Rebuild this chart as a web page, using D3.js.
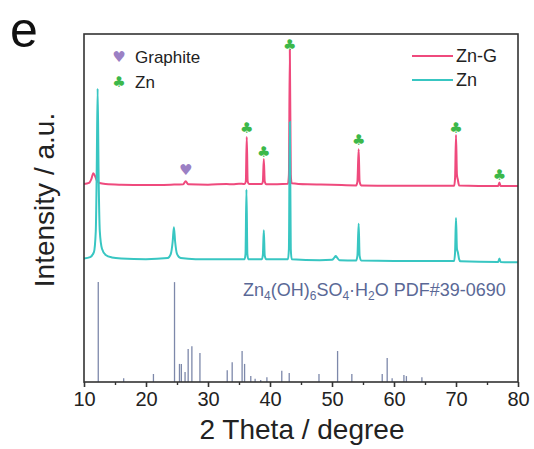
<!DOCTYPE html>
<html><head><meta charset="utf-8">
<script src="https://cdn.jsdelivr.net/npm/d3@7"></script>
<style>html,body{margin:0;padding:0;background:#fff;}svg{display:block;font-family:"Liberation Sans",Arial,sans-serif;}</style>
</head><body>
<svg id="c" width="534" height="449"></svg>
<script>
// ---- data (relative intensities, a.u.) ----
const xTicks = [10,20,30,40,50,60,70,80];
const offsetZnG = 56.6;
const offsetZn = 35.3;
const znG = [[10,0.3],[10.8,0.6],[11.2,1.8],[11.5,3.4],[11.8,2.5],[12.1,1.2],[12.5,0.6],[13.5,0.3],[16,0.1],[20,0],[24,0.1],[26.0,0.2],[26.4,1.1],[26.8,0.2],[30,0.1],[33,0.3],[34,0.2],[35,0.4],[35.9,0.3],[36.1,1],[36.25,13.8],[36.4,1],[36.6,0.3],[38.7,0.3],[38.85,1],[39.0,7.5],[39.15,1],[39.4,0.2],[42.9,0.4],[43.05,3],[43.2,38.8],[43.35,3],[43.5,0.5],[46,0.2],[50,0.1],[53.9,-0.1],[54.1,1],[54.3,10.3],[54.45,1],[54.7,-0.1],[60,-0.2],[69.7,-0.2],[69.85,2],[70.0,14.4],[70.15,3],[70.3,1.5],[70.5,-0.1],[76.8,-0.3],[77.0,0.7],[77.2,-0.3],[80,-0.3]];
const zn = [[10,0.2],[11,0.6],[11.6,2],[11.9,8],[12.05,25],[12.2,49],[12.35,25],[12.55,8],[12.9,3],[13.5,1.2],[14.5,0.5],[16,0.2],[20,0],[23.5,0.3],[24.0,1.5],[24.3,5],[24.5,9.2],[24.7,5],[25.0,1.5],[25.6,0.3],[28,0],[35.9,0],[36.05,1.5],[36.2,20],[36.35,1.5],[36.5,0],[38.7,0],[38.85,1.2],[39.0,8.3],[39.15,1],[39.4,0],[42.9,0],[43.05,3],[43.2,39.4],[43.35,3],[43.5,0],[48,-0.3],[50.0,-0.2],[50.4,0.5],[50.6,0.9],[50.8,0.5],[51.2,-0.3],[53.9,-0.4],[54.1,1],[54.3,10.2],[54.45,1],[54.7,-0.4],[60,-0.5],[69.7,-0.5],[69.85,2],[70.0,11.8],[70.15,3],[70.3,2],[70.5,0],[70.7,-0.6],[76.8,-0.8],[77.0,0.2],[77.2,-0.8],[80,-0.9]];
const refPos = [12.3,16.4,21.2,24.6,25.4,25.7,26.3,26.8,27.4,28.7,33.1,33.9,35.5,35.9,36.9,37.6,38.5,39.5,41.9,43.1,47.9,50.9,53.2,58.1,58.9,59.7,61.6,62.0,64.5];
const refInt = [28.7,1.1,2.3,28.7,5.2,5.2,2.9,9.5,10.3,8.3,3.4,5.7,8.9,5.2,1.7,0.9,0.6,1.4,3.2,2.6,2.3,8.9,2.3,2.3,6.9,1.1,2.0,1.7,1.4];
const znMarks = [[36.25,73.0],[39.0,66.1],[43.2,96.8],[54.3,69.5],[70.0,73.0],[77.0,59.5]];
const graphiteMarks = [[26.4,60.9]];
const legendSeries = ["Zn-G","Zn"];
const legendPhases = ["Graphite","Zn"];

// ---- layout ----
const L=84,R=518,T=34,B=382;
const svg=d3.select("#c");
const x=d3.scaleLinear().domain([10,80]).range([L,R]);
const y=d3.scaleLinear().domain([0,100]).range([B,T]);
const pink="#ef4a7d", cyan="#38c6c2", green="#3cb84a", purple="#9b80c4", stick="#7d88aa";

// reference sticks
svg.append("g").selectAll("line").data(refPos).join("line")
  .attr("x1",d=>x(d)).attr("x2",d=>x(d))
  .attr("y1",y(0)).attr("y2",(d,i)=>y(refInt[i]))
  .attr("stroke",stick).attr("stroke-width",1.3);

const line=off=>d3.line().x(d=>x(d[0])).y(d=>y(d[1]+off)).curve(d3.curveMonotoneX);
svg.append("path").datum(znG).attr("d",line(offsetZnG)).attr("fill","none").attr("stroke",pink).attr("stroke-width",2);
svg.append("path").datum(zn).attr("d",line(offsetZn)).attr("fill","none").attr("stroke",cyan).attr("stroke-width",2);

// markers
svg.append("g").selectAll("text").data(znMarks).join("text")
  .attr("x",d=>x(d[0])).attr("y",d=>y(d[1])+5).attr("text-anchor","middle")
  .attr("font-family","DejaVu Sans").attr("font-size",15).attr("fill",green).text("\u2663");
svg.append("g").selectAll("text").data(graphiteMarks).join("text")
  .attr("x",d=>x(d[0])).attr("y",d=>y(d[1])+5).attr("text-anchor","middle")
  .attr("font-family","DejaVu Sans").attr("font-size",15).attr("fill",purple).text("\u2665");

// frame
svg.append("rect").attr("x",L).attr("y",T).attr("width",R-L).attr("height",B-T)
  .attr("fill","none").attr("stroke","#333").attr("stroke-width",1.6);

// x axis
const ax=svg.append("g").attr("transform",`translate(0,${B})`)
  .call(d3.axisBottom(x).tickValues(xTicks).tickSize(5).tickPadding(5).tickFormat(d3.format("d")));
ax.select(".domain").remove();
ax.selectAll("line").attr("stroke","#333").attr("stroke-width",1.6);
ax.selectAll("text").attr("font-size",20).attr("fill","#222").attr("font-family","Liberation Sans, Arial, sans-serif");
svg.append("g").attr("transform",`translate(0,${B})`)
  .call(d3.axisBottom(x).tickValues(d3.range(15,80,10)).tickSize(3).tickFormat(""))
  .call(g=>{g.select(".domain").remove();g.selectAll("line").attr("stroke","#333").attr("stroke-width",1.4);});

svg.append("text").attr("x",302).attr("y",439).attr("text-anchor","middle").attr("font-size",28).attr("fill","#222").text("2 Theta / degree");
svg.append("text").attr("transform","translate(54,200) rotate(-90)").attr("text-anchor","middle").attr("font-size",28).attr("fill","#222").text("Intensity / a.u.");
svg.append("text").attr("x",10).attr("y",47).attr("font-size",50).attr("fill","#111").text("e");

// reference label
const rl=svg.append("text").attr("x",243).attr("y",296).attr("font-size",18).attr("fill","#5a6896");
rl.append("tspan").text("Zn");
rl.append("tspan").attr("font-size",12).attr("dy",4).text("4");
rl.append("tspan").attr("dy",-4).text("(OH)");
rl.append("tspan").attr("font-size",12).attr("dy",4).text("6");
rl.append("tspan").attr("dy",-4).text("SO");
rl.append("tspan").attr("font-size",12).attr("dy",4).text("4");
rl.append("tspan").attr("dy",-4).text("\u00b7H");
rl.append("tspan").attr("font-size",12).attr("dy",4).text("2");
rl.append("tspan").attr("dy",-4).text("O PDF#39-0690");

// legends
const lg=svg.append("g");
[pink,cyan].forEach((c,i)=>{
  lg.append("line").attr("x1",412).attr("x2",453).attr("y1",56+i*24).attr("y2",56+i*24).attr("stroke",c).attr("stroke-width",2);
  lg.append("text").attr("x",456).attr("y",62+i*24).attr("font-size",18).attr("fill","#222").text(legendSeries[i]);
});
[[purple,"\u2665"],[green,"\u2663"]].forEach((m,i)=>{
  lg.append("text").attr("x",119).attr("y",62+i*25).attr("text-anchor","middle").attr("font-family","DejaVu Sans").attr("font-size",15).attr("fill",m[0]).text(m[1]);
  lg.append("text").attr("x",135).attr("y",63+i*25).attr("font-size",17).attr("fill","#222").text(legendPhases[i]);
});
</script>
</body></html>
